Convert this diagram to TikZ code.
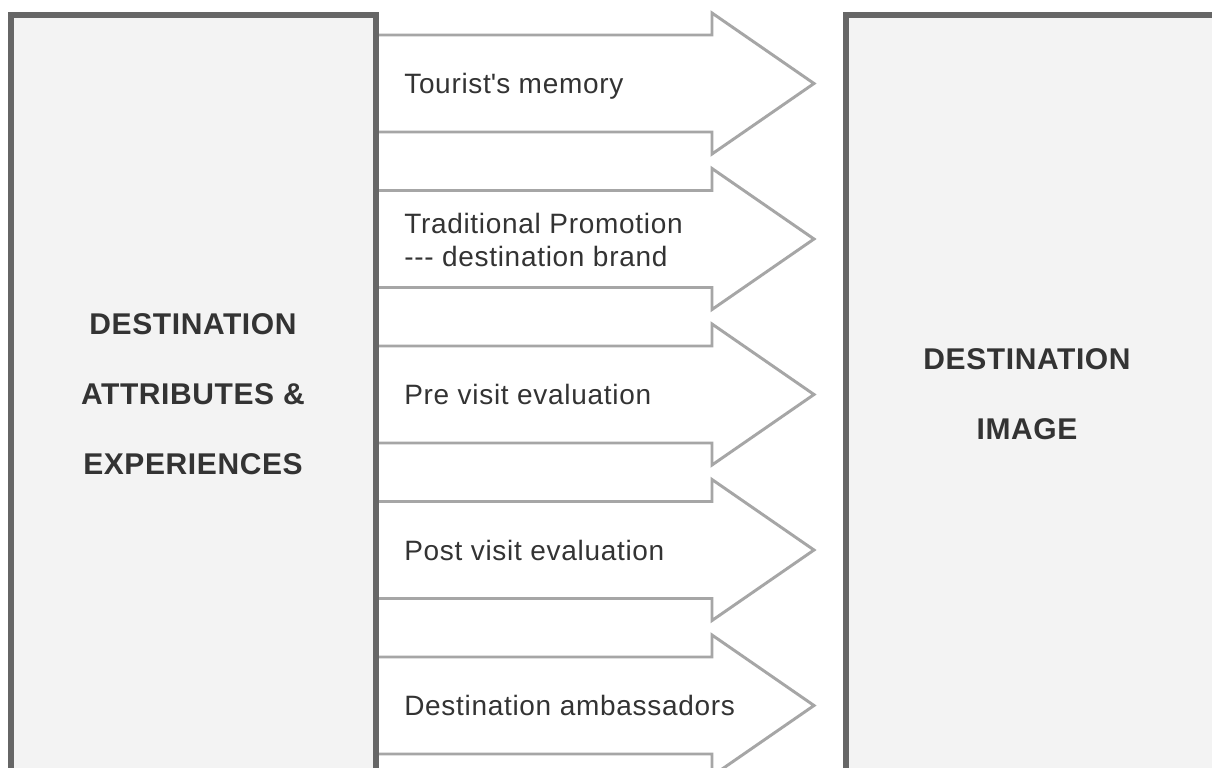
\documentclass[tikz,border=0pt]{standalone}
\usepackage{fontspec}
\setmainfont{Liberation Sans}
\definecolor{boxline}{HTML}{666666}
\definecolor{boxfill}{HTML}{F3F3F3}
\definecolor{arrowline}{HTML}{A6A6A6}
\definecolor{textgray}{HTML}{333333}

\begin{document}
\begin{tikzpicture}[x=0.75pt,y=-0.75pt,
  block/.style={line width=4.5pt, draw=boxline, fill=boxfill},
  flow/.style={line width=2.2pt, draw=arrowline, fill=white, line join=miter},
  boxtext/.style={text=textgray, align=center, font=\fontsize{22.5}{52.5}\selectfont\bfseries\addfontfeature{LetterSpace=2}},
  flowtext/.style={text=textgray, inner sep=0pt, align=left, font=\fontsize{21}{24.75}\selectfont\addfontfeature{LetterSpace=2.5}}]
\useasboundingbox (0,0) rectangle (1212,767);
\fill[white] (0,0) rectangle (1212,767);
\clip (0,0) rectangle (1212,767);
% the five block arrows
\draw[flow](376,35) -- (712,35) -- (712,13) -- (814,83.5) -- (712,154) -- (712,132) -- (376,132);
\draw[flow](376,190.5) -- (712,190.5) -- (712,168.5) -- (814,239) -- (712,309.5) -- (712,287.5) -- (376,287.5);
\draw[flow](376,346) -- (712,346) -- (712,324) -- (814,394.5) -- (712,465) -- (712,443) -- (376,443);
\draw[flow](376,501.5) -- (712,501.5) -- (712,479.5) -- (814,550) -- (712,620.5) -- (712,598.5) -- (376,598.5);
\draw[flow](376,657) -- (712,657) -- (712,635) -- (814,705.5) -- (712,776) -- (712,754) -- (376,754);
% the two boxes
\draw[block](11,15.5) rectangle (376,800);
\draw[block](846,15.5) rectangle (1216.5,800);
\node[boxtext] (attributes) at (193,394.5) {DESTINATION\\ATTRIBUTES \&\\EXPERIENCES};
\node[boxtext] (image) at (1027,394.5) {DESTINATION\\IMAGE};
\node[flowtext, anchor=base west] (memory) at (404,93.5) {Tourist\textquotesingle s memory};
\node[flowtext, anchor=west] (promotion) at (404,240) {Traditional Promotion\\-{}-{}- destination brand};
\node[flowtext, anchor=base west] (previsit) at (404,404.5) {Pre visit evaluation};
\node[flowtext, anchor=base west] (postvisit) at (404,560) {Post visit evaluation};
\node[flowtext, anchor=base west] (ambassadors) at (404,715.5) {Destination ambassadors};
\end{tikzpicture}
\end{document}
